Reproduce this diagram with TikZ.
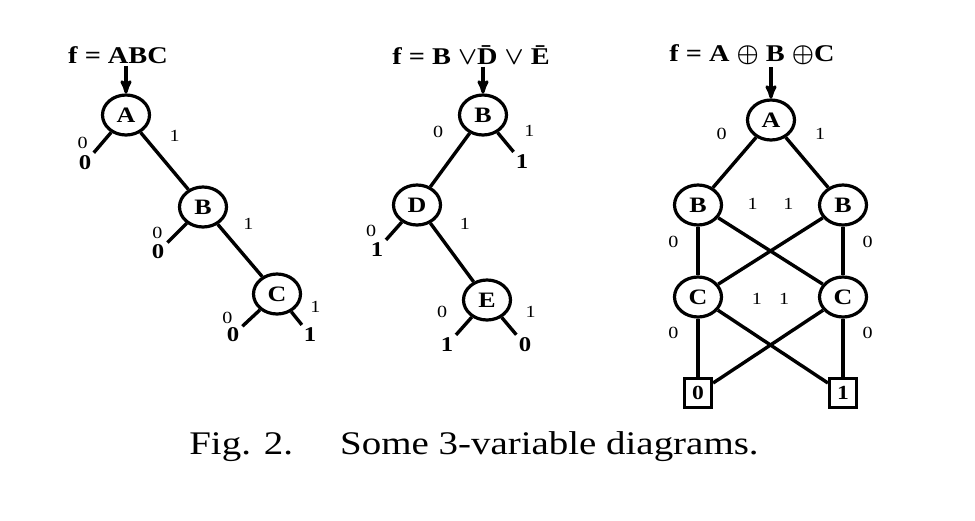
\documentclass[tikz,border=0pt]{standalone}
\usepackage{fontspec}
\setmainfont{Liberation Serif}[FakeStretch=1.18]
\usetikzlibrary{arrows}
\usetikzlibrary{positioning}
\usetikzlibrary{shapes.geometric}

\begin{document}
\begin{tikzpicture}[x=1pt,y=-1pt,>=stealth',on grid]
	\tikzstyle{vert}=[draw, ellipse, line width=3.2pt, minimum width=47pt, minimum height=40pt, inner sep=0pt, font=\bfseries\fontsize{22}{22}\selectfont]
	\tikzstyle{term}=[inner sep=3pt, font=\bfseries\fontsize{21}{21}\selectfont]
	\tikzstyle{leaf}=[draw, rectangle, line width=3.2pt, minimum width=27pt, minimum height=29pt, inner sep=0pt, font=\bfseries\fontsize{20}{20}\selectfont]
	\tikzstyle{lbl}=[inner sep=1pt, font=\fontsize{17}{17}\selectfont]
	\tikzstyle{func}=[inner sep=2pt, font=\bfseries\boldmath\fontsize{24}{24}\selectfont]
	\tikzstyle{every edge}=[draw, line width=3.4pt]
	\useasboundingbox (0,0) rectangle (975,520);

	% f = ABC
	\node[func] (F1) at (118,55) {f = ABC};
	\node[vert] (A1) at (126,115) {A};
	\node[vert] (B1) [below right=92pt and 77pt of A1] {B};
	\node[vert] (C1) [below right=87pt and 74pt of B1] {C};
	\node[term] (z1) [below left=48pt and 41pt of A1] {0};
	\node[term] (z2) [below left=45pt and 45pt of B1] {0};
	\node[term] (z3) [below left=41pt and 44pt of C1] {0};
	\node[term] (o1) [below right=41pt and 33pt of C1] {1};

	\draw[->, line width=3.2pt] (A1 |- F1.south) -- (A1);
	\path
		(A1) edge node[lbl, pos=.5, left=12pt] {0} (z1)
		(A1) edge node[lbl, pos=.34, above right=8pt and 10pt] {1} (B1)
		(B1) edge node[lbl, pos=.5, left=12pt] {0} (z2)
		(B1) edge node[lbl, pos=.31, above right=8pt and 9pt] {1} (C1)
		(C1) edge node[lbl, pos=.5, left=16pt] {0} (z3)
		(C1) edge node[lbl, pos=.5, above right=3pt and 11pt] {1} (o1);

	% f = B v D v E
	\node[func] (F2) at (471,55) {f = B $\vee$\={D} $\vee$ \={E}};
	\node[vert] (B2) at (483,115) {B};
	\node[vert] (D2) [below left=90pt and 66pt of B2] {D};
	\node[vert] (E2) [below right=95pt and 70pt of D2] {E};
	\node[term] (o2) [below right=47pt and 39pt of B2] {1};
	\node[term] (o3) [below left=45pt and 40pt of D2] {1};
	\node[term] (o4) [below left=45pt and 40pt of E2] {1};
	\node[term] (z4) [below right=45pt and 38pt of E2] {0};

	\draw[->, line width=3.2pt] (B2 |- F2.south) -- (B2);
	\path
		(B2) edge node[lbl, pos=.5, above right=3pt and 16pt] {1} (o2)
		(B2) edge node[lbl, pos=.30, above left=9pt and 12pt] {0} (D2)
		(D2) edge node[lbl, pos=.5, left=15pt] {0} (o3)
		(D2) edge node[lbl, pos=.32, above right=10pt and 13pt] {1} (E2)
		(E2) edge node[lbl, pos=.5, above left=6pt and 14pt] {0} (o4)
		(E2) edge node[lbl, pos=.5, above right=6pt and 14pt] {1} (z4);

	% f = A xor B xor C
	\node[func] (F3) at (752,55) {f = A $\oplus$ B $\oplus$C};
	\node[vert] (A3) at (771,120) {A};
	\node[vert] (B3) [below left=85pt and 73pt of A3] {B};
	\node[vert] (B4) [below right=85pt and 72pt of A3] {B};
	\node[vert] (C3) [below=92pt of B3] {C};
	\node[vert] (C4) [below=92pt of B4] {C};
	\node[leaf] (L0) [below=96pt of C3] {0};
	\node[leaf] (L1) [below=96pt of C4] {1};

	\draw[->, line width=3.2pt] (A3 |- F3.south) -- (A3);
	\path
		(A3) edge node[lbl, pos=.32, above left=11pt and 13pt] {0} (B3)
		(A3) edge node[lbl, pos=.32, above right=11pt and 13pt] {1} (B4)
		(B3) edge node[lbl, pos=.32, left=17pt] {0} (C3)
		(B3) edge node[lbl, pos=.16, above right=16pt and 10pt] {1} (C4)
		(B4) edge node[lbl, pos=.32, right=17pt] {0} (C4)
		(B4) edge node[lbl, pos=.16, above left=16pt and 10pt] {1} (C3)
		(C3) edge node[lbl, pos=.24, left=17pt] {0} (L0)
		(C3) edge node[lbl, pos=.185, above right=16pt and 11pt] {1} (L1)
		(C4) edge node[lbl, pos=.24, right=17pt] {0} (L1)
		(C4) edge node[lbl, pos=.185, above left=16pt and 11pt] {1} (L0);

	\node[font=\fontsize{33}{33}\selectfont] (cap) at (474,447) {Fig. 2.\hspace{34pt} Some 3-variable diagrams.};
\end{tikzpicture}
\end{document}
